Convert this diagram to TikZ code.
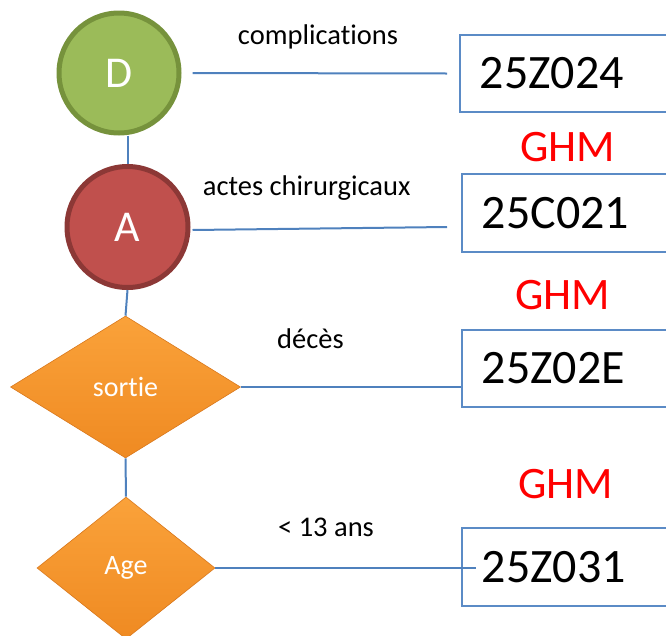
\documentclass[tikz,border=0pt]{standalone}
\usepackage{fontspec}
\setmainfont[Ligatures={NoCommon}]{Carlito}
\usetikzlibrary{shapes.geometric,calc}
\definecolor{dgreen}{HTML}{9BBB59}
\definecolor{dgreenb}{HTML}{76923C}
\definecolor{ared}{HTML}{C0504D}
\definecolor{aredb}{HTML}{8C3836}
\definecolor{lineblue}{HTML}{4F81BD}
\definecolor{boxblue}{HTML}{5B8BC6}
\definecolor{orangetop}{HTML}{FAA23A}
\definecolor{orangebot}{HTML}{EF8A22}
\definecolor{orangeb}{HTML}{D9781C}
\definecolor{ghmred}{HTML}{FF0000}
\tikzset{
  x=1pt, y=-1pt,
  roundnode/.style={circle, line width=5pt, inner sep=0pt, text=white, font=\fontsize{44}{50}\selectfont},
  decision/.style={diamond, inner sep=0pt, top color=orangetop, bottom color=orangebot, draw=orangeb, line width=0.6pt, text=white, font=\fontsize{28}{32}\selectfont},
  codebox/.style={rectangle, draw=boxblue, line width=1.6pt, anchor=west, inner xsep=20pt, inner ysep=0pt, text width=220pt, align=left, font=\fontsize{48}{54}\selectfont},
  conn/.style={draw=lineblue, line width=2pt},
  lbl/.style={anchor=base, font=\fontsize{28.5}{32}\selectfont},
  ghm/.style={anchor=base, text=ghmred, font=\fontsize{45}{50}\selectfont}
}
\begin{document}
\begin{tikzpicture}
\useasboundingbox (0,0) rectangle (666,635);
% boxes
\node[codebox, minimum height=77pt] (b1) at (459,73.5) {25Z024};
\node[codebox, minimum height=78pt] (b2) at (461,213) {25C021};
\node[codebox, minimum height=77pt] (b3) at (461,368.5) {25Z02E};
\node[codebox, minimum height=78pt] (b4) at (461,567) {25Z031};
% GHM labels
\node[ghm] (g1) at (568,161.5) {GHM};
\node[ghm] (g2) at (563,309) {GHM};
\node[ghm] (g3) at (565.5,498) {GHM};
% decision nodes
\node[decision, minimum width=230pt, minimum height=142pt] (s) at (125.5,387) {sortie};
\node[decision, minimum width=178pt, minimum height=142pt] (age) at (126,568) {Age};
% circles
\node[roundnode, fill=dgreen, draw=dgreenb, minimum size=120pt] (D) at (119,73) {D};
\node[roundnode, fill=ared, draw=aredb, minimum size=121pt] (A) at (127.5,227) {A};
% connectors
\draw[conn] (A.north |- D.south) -- (A.north);
\draw[conn] (A.south) -- (s.north);
\draw[conn] (s.south) -- (age.north);
\draw[conn] ($(D.east)+(11,0)$) -- ($(b1.west)+(-12,0)$);
\draw[conn] ($(A.east)+(2,3)$) -- ($(b2.west)+(-14,14)$);
\draw[conn] (s.east) -- (s.east -| b3.west);
\draw[conn] (age.east) -- ($(age.east -| b4.west)+(15,0)$);
% labels
\node[lbl] (l1) at (318,44.3) {complications};
\node[lbl] (l2) at (306.7,195) {actes chirurgicaux};
\node[lbl] (l3) at (310.5,348) {décès};
\node[lbl] (l4) at (326,536) {< 13 ans};
\end{tikzpicture}
\end{document}
